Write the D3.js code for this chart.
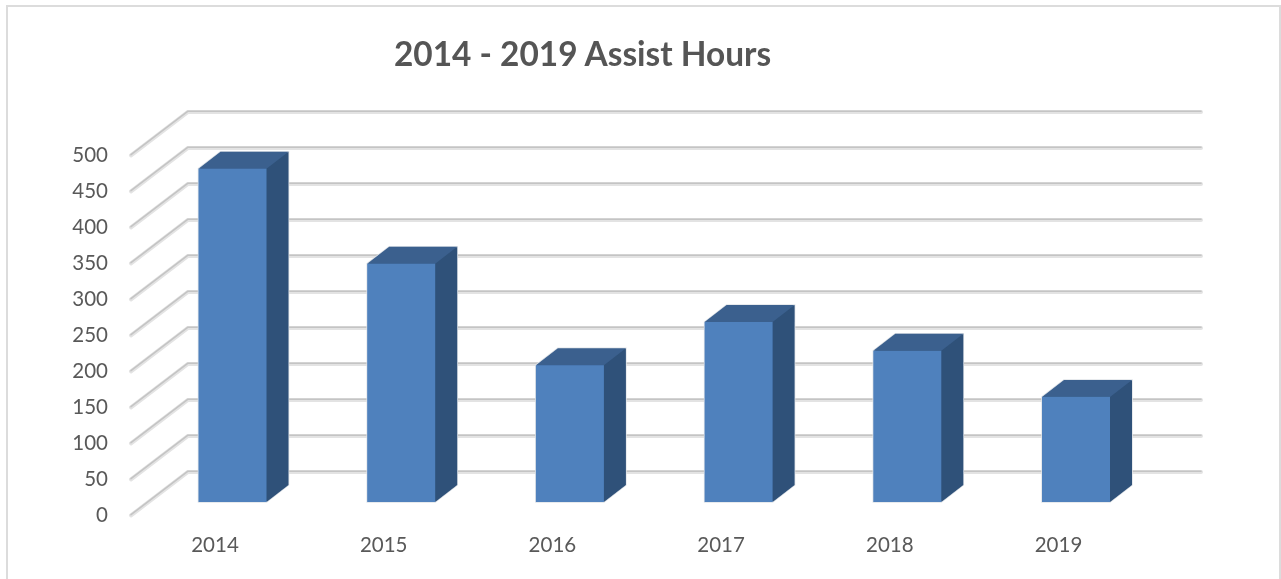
<!DOCTYPE html>
<html><head><meta charset="utf-8">
<script src="https://cdn.jsdelivr.net/npm/d3@7"></script>
<style>html,body{margin:0;padding:0;background:#fff;overflow:hidden}svg{display:block;filter:blur(0.45px)}text{font-family:Lato,"Open Sans",sans-serif}</style>
</head><body>
<script>
const categories = ["2014","2015","2016","2017","2018","2019"];
const hours = [463,331,190,250,210,146];
const yTicks = [0,50,100,150,200,250,300,350,400,450,500];
const chartTitle = "2014 - 2019 Assist Hours";

const W=1281,H=579;
const svg=d3.select("body").append("svg").attr("width",W).attr("height",H);
svg.append("rect").attr("x",7).attr("y",6).attr("width",1273).attr("height",590).attr("fill","#fff").attr("stroke","#dcdcdc").attr("stroke-width",2);

const dx=57, dy=-43.5;               // floor depth
const yFront=d3.scaleLinear().domain([0,500]).range([515,155]);
const yBack=v=>yFront(v)+dy;
const xStart=131, xEnd=1201;

const grid=svg.append("g").attr("fill","none");
for(const [c,w,off] of [["#e3e3e3",4,0.4],["#c4c4c4",1.6,-0.3]]){
  grid.append("g").selectAll("path").data(yTicks).join("path")
    .attr("d",v=>`M${xStart},${yFront(v)+off}L${xStart+dx},${yBack(v)+off}H${xEnd}`)
    .attr("stroke",c).attr("stroke-width",w).attr("stroke-linejoin","round").attr("stroke-linecap","round");
}

const barW=68, bdx=22, bdy=-17, step=168.7;
const xBar=d3.scaleLinear().domain([0,5]).range([198.5,198.5+5*step]);
const yBar=d3.scaleLinear().domain([0,500]).range([502,142]);
const bars=svg.append("g").selectAll("g").data(categories.map((c,i)=>({c,v:hours[i],i}))).join("g");
bars.append("path").attr("fill","#2f5179").attr("stroke","#dfe3e8").attr("stroke-width",1.5).attr("d",d=>{
  const x=xBar(d.i),t=yBar(d.v),b=yBar(0);
  return `M${x},${t}l${bdx},${bdy}h${barW}V${b+bdy}L${x+barW},${b}H${x}Z`;});
bars.append("path").attr("fill","#2f5179").attr("d",d=>{
  const x=xBar(d.i)+barW,t=yBar(d.v),b=yBar(0);
  return `M${x},${t}l${bdx},${bdy}V${b+bdy}L${x},${b}Z`;});
bars.append("path").attr("fill","#3b608e").attr("d",d=>{
  const x=xBar(d.i),t=yBar(d.v);
  return `M${x},${t}l${bdx},${bdy}h${barW}l${-bdx},${-bdy}Z`;});
bars.append("rect").attr("fill","#4f81bd")
  .attr("x",d=>xBar(d.i)).attr("width",barW)
  .attr("y",d=>yBar(d.v)).attr("height",d=>yBar(0)-yBar(d.v));

svg.append("g").selectAll("text").data(yTicks).join("text")
  .attr("x",108).attr("y",v=>yFront(v)+6.5).attr("text-anchor","end")
  .attr("font-size",20.5).attr("fill","#595959").text(d=>d);
svg.append("g").selectAll("text").data(categories).join("text")
  .attr("x",(d,i)=>xBar(i)+16.5).attr("y",552).attr("text-anchor","middle")
  .attr("font-size",20.5).attr("fill","#595959").text(d=>d);
svg.append("text").attr("x",582.5).attr("y",66).attr("text-anchor","middle")
  .attr("font-size",33.4).attr("font-weight",700).attr("fill","#555555").text(chartTitle);
</script>
</body></html>
